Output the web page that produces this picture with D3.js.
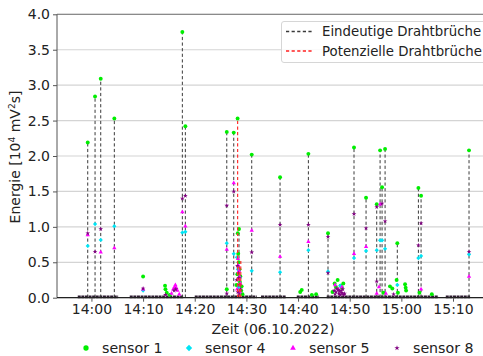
<!DOCTYPE html>
<html>
<head>
<meta charset="utf-8">
<script src="https://cdn.jsdelivr.net/npm/d3@7"></script>
<style>
  body { margin: 0; background: #fff; }
  svg { font-family: "DejaVu Sans", sans-serif; display: block; }
</style>
</head>
<body>
<div id="chart"></div>
<script>
// sensor readings [time, energy in 10^4 mV^2 s]
var sensor1 = [
  ["13:59:17",2.19],["14:00:42",2.84],["14:01:48",3.09],["14:04:26",2.53],
  ["14:10:00",0.30],["14:14:15",0.17],["14:14:20",0.12],["14:14:35",0.07],["14:15:10",0.04],
  ["14:17:36",3.75],["14:18:11",2.42],
  ["14:26:12",2.34],["14:26:12",0.12],["14:27:33",2.33],
  ["14:28:18",2.53],["14:28:20",0.91],["14:28:34",0.97],["14:28:25",0.62],["14:28:30",0.50],
  ["14:28:40",0.40],["14:28:15",0.33],["14:28:45",0.22],["14:29:00",0.10],["14:29:15",0.05],
  ["14:28:05",0.18],["14:28:50",0.30],["14:29:05",0.16],
  ["14:31:02",2.02],["14:36:31",1.70],["14:40:25",0.08],["14:40:43",0.11],["14:42:00",2.03],
  ["14:42:40",0.04],["14:43:30",0.05],
  ["14:45:48",0.91],["14:46:40",0.08],["14:47:05",0.20],["14:47:40",0.25],["14:48:15",0.17],["14:48:46",0.20],
  ["14:48:30",0.14],["14:47:20",0.15],
  ["14:50:50",2.12],["14:53:10",1.41],["14:55:14",1.32],["14:55:53",2.08],["14:56:16",1.56],
  ["14:56:51",2.10],["14:56:30",0.07],
  ["14:57:48",0.16],["14:58:15",0.13],["14:59:13",0.77],["14:59:05",0.25],["14:59:20",0.07],
  ["15:00:43",0.19],["15:00:50",0.14],["15:00:55",0.10],
  ["15:03:18",1.55],["15:03:49",1.44],["15:03:30",0.07],["15:05:54",0.05],["15:13:06",2.08]
];
var sensor4 = [
  ["13:59:17",0.73],["14:00:42",1.04],["14:01:48",0.815],["14:04:26",1.01],["14:10:00",0.10],
  ["14:17:36",0.92],["14:18:11",0.93],["14:26:12",0.77],["14:27:33",0.62],["14:28:10",0.57],
  ["14:28:45",0.28],["14:28:30",0.15],["14:28:20",0.40],
  ["14:31:02",0.38],["14:36:31",0.36],["14:42:00",0.67],["14:45:48",0.37],["14:48:10",0.17],
  ["14:50:50",0.56],["14:53:10",0.66],["14:55:14",0.67],["14:55:53",0.81],["14:56:16",0.81],
  ["14:56:51",0.69],["14:59:13",0.18],["15:03:18",0.56],["15:03:49",0.59],["15:13:06",0.61]
];
var sensor5 = [
  ["13:59:17",0.885],["14:01:48",0.64],["14:04:26",0.70],["14:10:00",0.12],
  ["14:15:30",0.06],["14:15:50",0.12],["14:16:05",0.15],["14:16:15",0.18],["14:16:25",0.14],
  ["14:16:40",0.10],["14:17:00",0.05],
  ["14:17:36",1.21],["14:18:11",1.01],["14:26:12",0.68],["14:27:33",1.62],
  ["14:28:22",0.55],["14:28:28",0.45],["14:28:35",0.38],["14:28:40",0.30],["14:28:50",0.20],["14:28:20",0.26],
  ["14:28:12",0.12],["14:28:45",0.08],
  ["14:31:02",0.95],["14:36:31",0.58],["14:42:00",0.79],["14:47:10",0.18],["14:47:50",0.12],
  ["14:48:30",0.15],["14:50:50",0.62],["14:53:10",0.72],["14:55:14",0.06],["14:55:53",1.32],
  ["14:55:40",0.15],["14:57:00",0.06],["15:03:49",0.12],["15:13:06",0.30]
];
var sensor8 = [
  ["13:59:17",0.91],["14:00:42",0.65],["14:01:48",0.97],["14:10:00",0.13],["14:14:20",0.04],
  ["14:16:00",0.10],["14:16:20",0.12],
  ["14:17:36",1.40],["14:18:11",1.44],["14:26:12",1.30],["14:26:12",0.06],["14:27:33",1.50],
  ["14:28:15",0.45],["14:28:25",0.35],["14:28:32",0.28],["14:28:42",0.18],["14:28:52",0.12],
  ["14:28:08",0.25],["14:28:20",0.08],["14:28:38",0.05],
  ["14:31:02",0.64],["14:36:31",1.03],["14:42:00",1.03],["14:45:48",0.86],["14:45:48",0.35],
  ["14:47:00",0.10],["14:47:10",0.05],["14:47:20",0.08],["14:47:30",0.13],["14:47:45",0.11],
  ["14:47:55",0.06],["14:48:00",0.09],["14:48:10",0.04],["14:48:20",0.10],["14:48:30",0.07],
  ["14:48:40",0.12],["14:48:50",0.04],["14:49:00",0.06],
  ["14:50:50",1.18],["14:53:10",0.98],["14:55:14",1.28],["14:55:14",0.23],["14:56:16",1.33],
  ["14:56:51",1.08],["14:58:30",0.05],["15:03:18",0.74],["15:03:49",1.05],["15:13:06",0.65]
];

// wire breaks [time, height]
var definiteBreaks = [
  ["13:59:17",2.19],["14:00:42",2.84],["14:01:48",3.09],["14:04:26",2.53],["14:17:36",3.75],
  ["14:18:11",2.42],["14:26:12",2.34],["14:27:33",2.33],["14:28:34",0.97],["14:31:02",2.02],
  ["14:36:31",1.70],["14:42:00",2.03],["14:45:48",0.91],["14:50:50",2.12],["14:53:10",1.41],
  ["14:55:14",1.32],["14:55:53",2.08],["14:56:16",1.56],["14:56:51",2.10],["14:59:13",0.77],
  ["15:03:18",1.55],["15:03:49",1.44],["15:13:06",2.08]
];
var potentialBreaks = [["14:28:18",2.53],["14:28:40",0.45],["14:28:55",0.52]];

// periods where the sensors sit at the noise floor
var recording = [
  ["13:57:21","14:05:10"],["14:07:25","14:17:52"],["14:20:00","14:32:00"],["14:32:50","14:37:41"],
  ["14:39:45","14:44:04"],["14:45:33","15:07:10"],["15:08:36","15:13:18"]
];

var xTicks = ["14:00:00","14:10:00","14:20:00","14:30:00","14:40:00","14:50:00","15:00:00","15:10:00"];
var yTicks = [0,0.5,1,1.5,2,2.5,3,3.5,4];

var parseT = d3.timeParse("%Y-%m-%d %H:%M:%S");
function T(s) { return parseT("2022-10-06 " + s); }

// set the dimensions and margins of the graph
var margin = {top: 14.3, left: 57},
    width = 430,
    height = 283.4;

var x = d3.scaleTime().domain([T("13:53:20"), T("15:16:00")]).range([0, 427]);
var y = d3.scaleLinear().domain([0, 4]).range([height, 0]);

var svg = d3.select("#chart").append("svg")
    .attr("width", 483)
    .attr("height", 356);

var g = svg.append("g")
    .attr("transform", "translate(" + margin.left + "," + margin.top + ")");

// grid
g.selectAll(".grid").data(yTicks).enter().append("line")
    .attr("x1", 0).attr("x2", width)
    .attr("y1", function(d) { return y(d); })
    .attr("y2", function(d) { return y(d); })
    .attr("stroke", "#d4d4d4").attr("stroke-width", 1.2);

var plot = g.append("g");

// noise floor
plot.selectAll(".rec").data(recording).enter().append("line")
    .attr("x1", function(d) { return x(T(d[0])); })
    .attr("x2", function(d) { return x(T(d[1])); })
    .attr("y1", y(0.012)).attr("y2", y(0.012))
    .attr("stroke", "#2b1a2e").attr("stroke-width", 2.6)
    .attr("stroke-dasharray", "3,0.6");

// break lines
plot.selectAll(".defb").data(definiteBreaks).enter().append("line")
    .attr("x1", function(d) { return x(T(d[0])); })
    .attr("x2", function(d) { return x(T(d[0])); })
    .attr("y1", y(0)).attr("y2", function(d) { return y(d[1]); })
    .attr("stroke", "#3a3a3a").attr("stroke-width", 1)
    .attr("stroke-dasharray", "3.2,2.4");

// sensor points
var series = [
  {name: "sensor 1", data: sensor1, color: "#00ee00", type: d3.symbolCircle, size: 12, rot: 0},
  {name: "sensor 4", data: sensor4, color: "#00e5f5", type: d3.symbolSquare, size: 9, rot: 45},
  {name: "sensor 5", data: sensor5, color: "#ff00ff", type: d3.symbolTriangle, size: 8, rot: 0},
  {name: "sensor 8", data: sensor8, color: "#800080", type: d3.symbolStar, size: 7, rot: 0}
];

series.forEach(function(s) {
  plot.selectAll(null).data(s.data).enter().append("path")
      .attr("d", d3.symbol().type(s.type).size(s.size))
      .attr("transform", function(d) {
        return "translate(" + x(T(d[0])) + "," + y(d[1]) + ") rotate(" + s.rot + ")";
      })
      .attr("fill", s.color);
});

plot.selectAll(".potb").data(potentialBreaks).enter().append("line")
    .attr("x1", function(d) { return x(T(d[0])); })
    .attr("x2", function(d) { return x(T(d[0])); })
    .attr("y1", y(0)).attr("y2", function(d) { return y(d[1]); })
    .attr("stroke", "#ff3030").attr("stroke-width", 1.2)
    .attr("stroke-dasharray", "3.2,2.4");

// axes
g.append("line").attr("x1", 0).attr("x2", width).attr("y1", 0).attr("y2", 0)
    .attr("stroke", "#8a8a8a").attr("stroke-width", 1.3);
g.append("line").attr("x1", 0).attr("x2", 0).attr("y1", 0).attr("y2", height)
    .attr("stroke", "#555").attr("stroke-width", 1);
g.append("line").attr("x1", 0).attr("x2", width).attr("y1", height).attr("y2", height)
    .attr("stroke", "#222").attr("stroke-width", 1.2);

var yAxis = d3.axisLeft(y).tickValues(yTicks).tickSize(4).tickPadding(3)
    .tickFormat(d3.format(".1f"));
var ya = g.append("g").call(yAxis);
ya.select(".domain").remove();

var xAxis = d3.axisBottom(x).tickValues(xTicks.map(T)).tickSize(4).tickPadding(2)
    .tickFormat(d3.timeFormat("%H:%M"));
var xa = g.append("g").attr("transform", "translate(0," + height + ")").call(xAxis);
xa.select(".domain").remove();

[ya, xa].forEach(function(a) {
  a.selectAll("text").attr("font-size", 14).attr("font-family", "DejaVu Sans").attr("fill", "#222");
  a.selectAll("line").attr("stroke", "#555");
});

// axis titles
svg.append("text")
    .attr("x", 273).attr("y", 334)
    .attr("text-anchor", "middle").attr("font-size", 14).attr("fill", "#222")
    .text("Zeit (06.10.2022)");

var yl = svg.append("text")
    .attr("transform", "translate(20,157) rotate(-90)")
    .attr("text-anchor", "middle").attr("font-size", 14).attr("fill", "#222");
yl.append("tspan").text("Energie [10");
yl.append("tspan").attr("font-size", 9).attr("dy", -5).text("4");
yl.append("tspan").attr("dy", 5).text(" mV");
yl.append("tspan").attr("font-size", 9).attr("dy", -5).text("2");
yl.append("tspan").attr("dy", 5).text("s]");

// top legend
var lg = svg.append("g").attr("transform", "translate(281,21)");
lg.append("rect").attr("x", 0.5).attr("y", 0.5).attr("width", 220).attr("height", 41).attr("rx", 2.5)
    .attr("fill", "#fff").attr("fill-opacity", 0.85).attr("stroke", "#d6d6d6");
var legendBreaks = [["Eindeutige Drahtbrüche", "#3a3a3a"], ["Potenzielle Drahtbrüche", "#ff2020"]];
legendBreaks.forEach(function(d, i) {
  var yy = 10.5 + i * 19.5;
  lg.append("line").attr("x1", 5).attr("x2", 31).attr("y1", yy).attr("y2", yy)
      .attr("stroke", d[1]).attr("stroke-width", 1.3).attr("stroke-dasharray", "3.2,2.4");
  lg.append("text").attr("x", 41).attr("y", yy + 4.5).attr("font-size", 13.3).attr("fill", "#222").text(d[0]);
});

// bottom legend
var legendX = [86, 189, 293, 397];
var legendSize = [22, 20, 14, 9];
series.forEach(function(s, i) {
  svg.append("path")
      .attr("d", d3.symbol().type(s.type).size(legendSize[i]))
      .attr("transform", "translate(" + legendX[i] + ",348) rotate(" + s.rot + ")")
      .attr("fill", s.color);
  svg.append("text").attr("x", legendX[i] + 16).attr("y", 353)
      .attr("font-size", 14.2).attr("fill", "#222").text(s.name);
});
</script>
</body>
</html>
